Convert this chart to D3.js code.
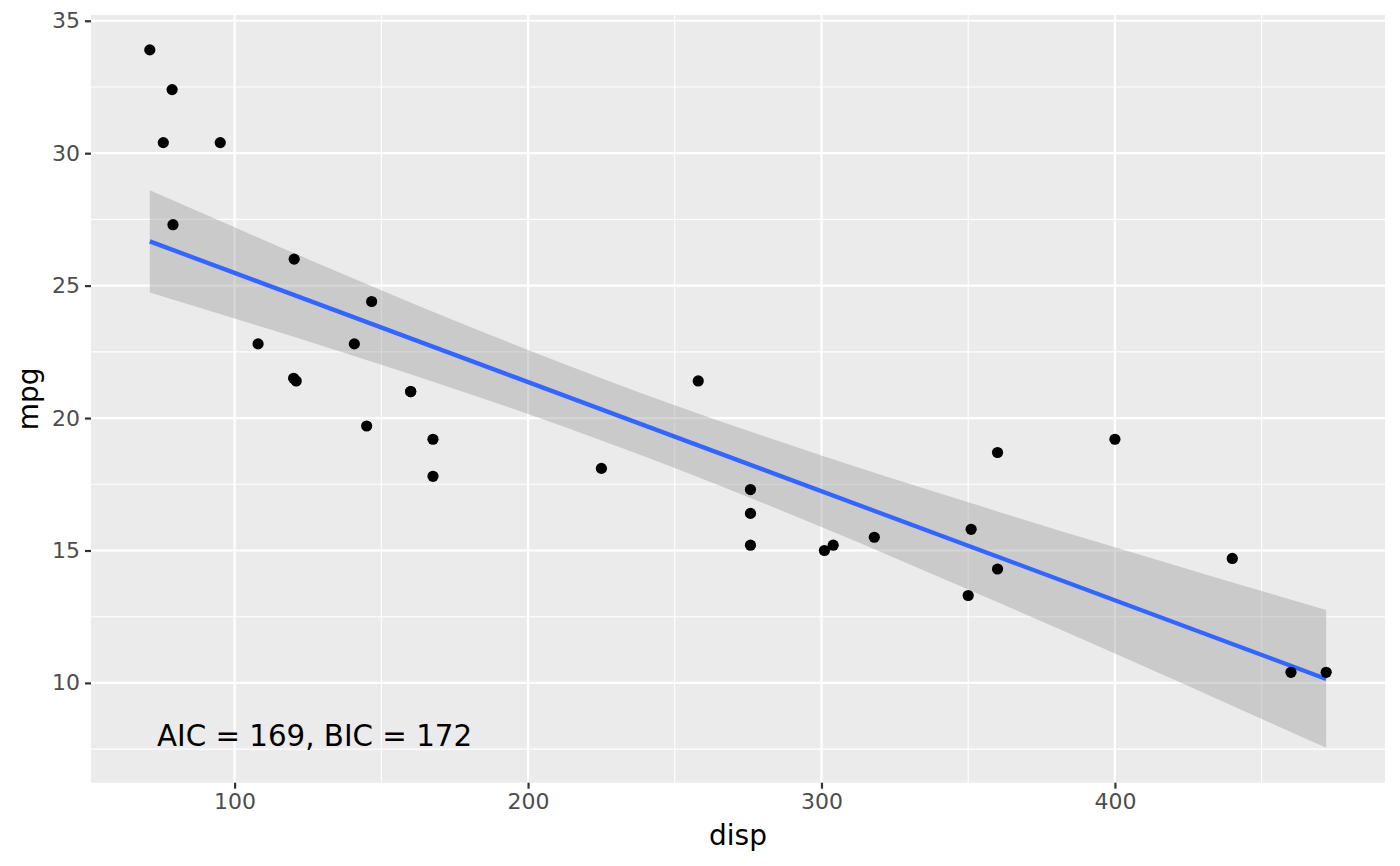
<!DOCTYPE html>
<html>
<head>
<meta charset="utf-8">
<script src="https://cdn.jsdelivr.net/npm/d3@7"></script>
<style>
  body { margin: 0; background: #fff; }
  svg text { font-family: "DejaVu Sans", sans-serif; }
</style>
</head>
<body>
<div id="chart"></div>
<script>
// mtcars: displacement vs miles per gallon
var disp = [160, 160, 108, 258, 360, 225, 360, 146.7, 140.8, 167.6, 167.6, 275.8, 275.8, 275.8,
            472, 460, 440, 78.7, 75.7, 71.1, 120.1, 318, 304, 350, 400, 79, 120.3, 95.1, 351, 145, 301, 121];
var mpg = [21, 21, 22.8, 21.4, 18.7, 18.1, 14.3, 24.4, 22.8, 19.2, 17.8, 16.4, 17.3, 15.2,
           10.4, 10.4, 14.7, 32.4, 30.4, 33.9, 21.5, 15.5, 15.2, 13.3, 19.2, 27.3, 26, 30.4, 15.8, 19.7, 15, 21.4];

// fitted line and confidence band
var fitX = [71.1, 472];
var fitY = [26.67, 10.15];
var bandX  = [71.1, 100, 125, 150, 200, 250, 300, 350, 400, 425, 450, 472];
var bandHi = [28.60, 27.20, 26.00, 24.83, 22.57, 20.48, 18.59, 16.82, 15.12, 14.29, 13.47, 12.75];
var bandLo = [24.74, 23.76, 22.90, 22.01, 20.15, 18.11, 15.89, 13.53, 11.11, 9.88, 8.64, 7.55];

var xMajor = [100, 200, 300, 400];
var xMinor = [150, 250, 350, 450];
var yMajor = [10, 15, 20, 25, 30, 35];
var yMinor = [7.5, 12.5, 17.5, 22.5, 27.5, 32.5];

var annotation = "AIC = 169, BIC = 172";

var W = 1400, H = 866;
var panel = {left: 91, right: 1385, top: 15, bottom: 782.7};

var x = d3.scaleLinear().domain([51.055, 492.045]).range([panel.left, panel.right]);
var y = d3.scaleLinear().domain([6.2325, 35.2175]).range([panel.bottom, panel.top]);

var svg = d3.select("#chart").append("svg")
  .attr("width", W).attr("height", H);

// panel background
svg.append("rect")
  .attr("x", panel.left).attr("y", panel.top)
  .attr("width", panel.right - panel.left).attr("height", panel.bottom - panel.top)
  .attr("fill", "#EBEBEB");

var grid = svg.append("g");
grid.selectAll(".xminor").data(xMinor).enter().append("line")
  .attr("x1", x).attr("x2", x).attr("y1", panel.top).attr("y2", panel.bottom)
  .attr("stroke", "#fff").attr("stroke-width", 1.1);
grid.selectAll(".yminor").data(yMinor).enter().append("line")
  .attr("y1", y).attr("y2", y).attr("x1", panel.left).attr("x2", panel.right)
  .attr("stroke", "#fff").attr("stroke-width", 1.1);
grid.selectAll(".xmajor").data(xMajor).enter().append("line")
  .attr("x1", x).attr("x2", x).attr("y1", panel.top).attr("y2", panel.bottom)
  .attr("stroke", "#fff").attr("stroke-width", 2.2);
grid.selectAll(".ymajor").data(yMajor).enter().append("line")
  .attr("y1", y).attr("y2", y).attr("x1", panel.left).attr("x2", panel.right)
  .attr("stroke", "#fff").attr("stroke-width", 2.2);

// confidence ribbon
var band = d3.area()
  .x(function(d, i) { return x(bandX[i]); })
  .y0(function(d, i) { return y(bandLo[i]); })
  .y1(function(d, i) { return y(bandHi[i]); })
  .curve(d3.curveMonotoneX);
svg.append("path").datum(bandX)
  .attr("d", band)
  .attr("fill", "#999999").attr("fill-opacity", 0.4);

// fitted line
var line = d3.line()
  .x(function(d, i) { return x(fitX[i]); })
  .y(function(d, i) { return y(fitY[i]); });
svg.append("path").datum(fitX)
  .attr("d", line)
  .attr("fill", "none").attr("stroke", "#3366FF").attr("stroke-width", 4.3);

// points
svg.selectAll(".dot").data(disp).enter().append("circle")
  .attr("cx", function(d) { return x(d); })
  .attr("cy", function(d, i) { return y(mpg[i]); })
  .attr("r", 5.6)
  .attr("fill", "#000");

// annotation
svg.append("text")
  .attr("x", 157).attr("y", 746)
  .attr("font-size", 29.3).attr("fill", "#000")
  .text(annotation);

// axes
var xAxis = d3.axisBottom(x).tickValues(xMajor).tickSize(6).tickPadding(5);
var gx = svg.append("g").attr("transform", "translate(0," + panel.bottom + ")").call(xAxis);
var yAxis = d3.axisLeft(y).tickValues(yMajor).tickSize(6).tickPadding(5);
var gy = svg.append("g").attr("transform", "translate(" + panel.left + ",0)").call(yAxis);
[gx, gy].forEach(function(g) {
  g.select(".domain").remove();
  g.selectAll(".tick line").attr("stroke", "#333333").attr("stroke-width", 2.2);
  g.selectAll(".tick text").attr("fill", "#4D4D4D").attr("font-size", 22)
    .style("font-family", "DejaVu Sans, sans-serif");
});

// axis titles
svg.append("text")
  .attr("x", (panel.left + panel.right) / 2).attr("y", 845)
  .attr("text-anchor", "middle").attr("font-size", 28).attr("fill", "#000")
  .text("disp");
svg.append("text")
  .attr("transform", "translate(38," + ((panel.top + panel.bottom) / 2) + ") rotate(-90)")
  .attr("text-anchor", "middle").attr("font-size", 28).attr("fill", "#000")
  .text("mpg");
</script>
</body>
</html>
